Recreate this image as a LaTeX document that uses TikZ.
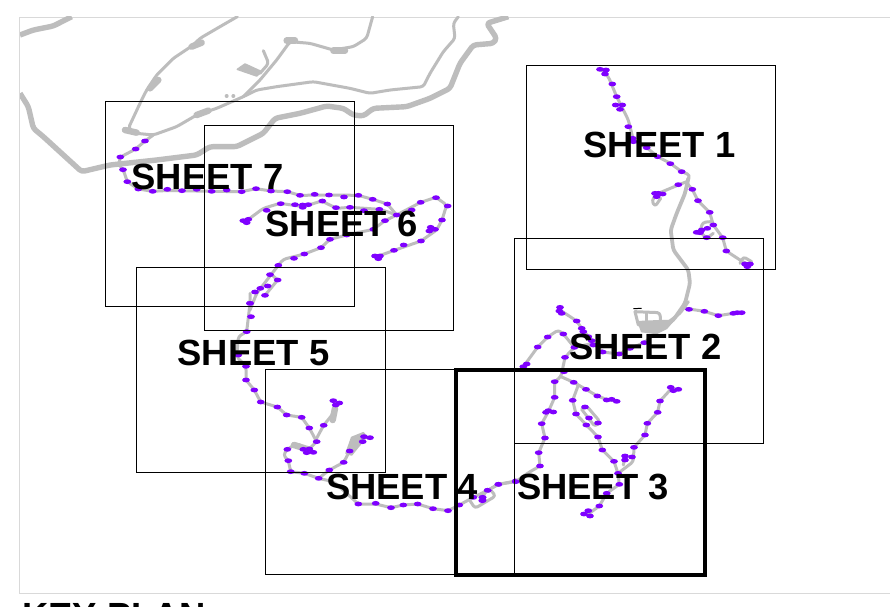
\documentclass[tikz,border=0pt]{standalone}
\usepackage{fontspec}
\setmainfont{Liberation Sans}
\definecolor{roadc}{HTML}{BDBDBD}
\definecolor{dotc}{HTML}{7F00FF}
\definecolor{framec}{HTML}{D9D9D9}
\newcommand{\pdots}[1]{\foreach \p in {#1} \fill[dotc] \p ellipse [x radius=3.9pt,y radius=2.4pt];}
\tikzset{
  coast/.style={draw=roadc,line width=5.4pt,line join=round,rounded corners=3pt},
  road/.style={draw=roadc,line width=3pt,line join=round,line cap=round,rounded corners=3pt},
  knot/.style={draw=roadc,line width=6.5pt,line join=round,line cap=round},
  blob/.style={draw=roadc,fill=roadc,line width=1.5pt,line join=round},
  sheetbox/.style={draw=black,line width=1pt},
  sheetlabel/.style={font=\fontsize{36.4}{36.4}\selectfont\bfseries,text=black,anchor=base,inner sep=0pt},
  zoomed/.style={x=0.33333pt,y=-0.33333pt}
}
\begin{document}
\begin{tikzpicture}[x=1pt,y=-1pt]
\useasboundingbox (0,0) rectangle (890,606);
\clip (0,0) rectangle (890,606);
\fill[white] (0,0) rectangle (890,606);
\draw[framec,line width=1pt] (890,17) -- (19,17) -- (19,593) -- (890,593);
% northern part, in 3x coordinates
\begin{scope}[zoomed]
\begin{scope}
\clip (60,50) rectangle (1560,930);
\draw[coast] (60,105) -- (100,90) -- (160,78) -- (215,50);
\draw[coast] (60,280) -- (85,320) -- (100,385) -- (130,410) -- (245,515) -- (330,495) -- (470,480) -- (590,465) -- (630,440) -- (710,440) -- (790,400) -- (825,355) -- (900,340) -- (980,318) -- (1030,325) -- (1060,345) -- (1090,348) -- (1120,325) -- (1220,320) -- (1290,295) -- (1350,265) -- (1380,190) -- (1420,135) -- (1480,130) -- (1490,115) -- (1460,70) -- (1525,50);
\draw[road] (712,50) -- (660,80) -- (600,115) -- (580,135) -- (520,175) -- (470,225) -- (440,270) -- (420,310) -- (385,385) -- (410,400) -- (460,405) -- (530,380) -- (590,345) -- (650,325) -- (730,290) -- (770,270) -- (830,260) -- (940,245) -- (1050,265) -- (1110,280) -- (1170,270) -- (1270,260) -- (1290,220) -- (1330,155) -- (1365,115) -- (1360,70) -- (1375,50);
\draw[road] (730,290) -- (780,240) -- (830,180) -- (870,125) -- (930,130) -- (1000,150) -- (1060,140) -- (1100,115) -- (1118,50);
\end{scope}
\draw[knot] (375,390) -- (410,398);
\draw[knot] (575,140) -- (605,128);
\draw[knot] (450,265) -- (475,240);
\draw[knot] (590,345) -- (625,332);
\draw[knot] (860,122) -- (885,122);
\draw[knot] (1000,152) -- (1035,152);
\fill[blob] (712,208) -- (735,192) -- (785,215) -- (770,228) -- cycle;
\draw[road] (780,220) -- (806,190) -- (790,152);
\foreach \p in {(680,288),(700,288)} \fill[roadc] \p circle (2pt);
\draw[road] (460,405) -- (435,423) -- (407,447) -- (360,472) -- (357,495) -- (370,510) -- (382,545) -- (415,567) -- (458,574) -- (490,572) -- (545,572) -- (635,574) -- (725,575) -- (768,566) -- (813,573) -- (862,575) -- (900,586) -- (987,585) -- (1075,586) -- (1118,598) -- (1162,612) -- (1190,645) -- (1155,662) -- (1120,688) -- (1040,705) -- (990,718) -- (963,743) -- (913,762) -- (850,778) -- (835,796) -- (770,880) -- (750,930);
\draw[road] (815,824) -- (833,840) -- (795,886);
\draw[road] (740,662) -- (790,625) -- (840,610) -- (910,620) -- (965,603) -- (1010,625) -- (1050,622) -- (1140,628) -- (1190,645);
\draw[road] (1130,770) -- (1180,752) -- (1263,723) -- (1310,690) -- (1326,660) -- (1340,615) -- (1308,592) -- (1262,607) -- (1190,645);
\pdots{(435,423),(407,447),(361,471),(369,509),(382,545),(415,567),(458,574),(502,568),(546,572),(590,568),(635,574),(680,570),(725,575),(768,566),(813,573),(862,575),(900,586),(944,583),(987,585),(1032,591),(1075,586),(1118,598),(1162,612),(1190,645),(1155,662),(1120,688),(1040,705),(990,718),(963,743),(913,762),(882,775),(835,796),(810,824),(833,840),(803,858),(781,865),(765,876),(795,886),(750,910)}
\pdots{(730,662),(745,658),(740,668),(800,631),(842,611),(885,614),(908,615),(925,614),(908,622),(967,603),(1008,623),(1050,622),(1092,632),(1138,628),(1235,630),(1262,607),(1308,593),(1343,618),(1326,660),(1292,682),(1305,688),(1288,693),(1263,723),(1211,735),(1182,751),(1125,768),(1140,768),(1135,776)}
\end{scope}
% west part
\begin{scope}[shift={(220pt,-300pt)},zoomed]
\draw[road] (90,-20) -- (90,10) -- (80,95) -- (55,110) -- (50,170) -- (78,200) -- (78,240) -- (103,270) -- (122,306) -- (172,321) -- (200,345) -- (245,352) -- (268,384) -- (290,425) -- (265,450) -- (230,430) -- (202,448) -- (190,465) -- (205,482) -- (212,515) -- (253,520) -- (296,535) -- (340,545) -- (380,580) -- (415,612) -- (467,612) -- (513,623) -- (550,615) -- (593,612) -- (639,626) -- (684,632) -- (718,615) -- (760,592) -- (803,571) -- (835,553) -- (887,543);
\draw[road] (287,420) -- (311,376) -- (340,340) -- (345,310);
\draw[knot] (338,360) -- (345,325);
\draw[knot] (222,435) -- (270,450);
\draw[road] (296,535) -- (328,510) -- (371,487) -- (389,453) -- (400,420) -- (440,412);
\fill[blob] (378,460) -- (395,412) -- (430,398) -- (440,410) -- (415,440) -- (395,465) -- cycle;
\draw[road] (750,602) -- (765,625) -- (827,588) -- (812,570);
\pdots{(90,10),(93,50),(80,95),(55,165),(78,199),(78,240),(103,270),(122,306),(172,321),(200,345),(245,352),(268,384),(311,376),(290,425),(340,302),(358,309),(347,315),(202,448),(250,448),(268,447),(280,457),(260,458),(205,482),(212,515),(253,520),(296,535),(328,510),(371,487),(389,453),(428,425),(432,410),(450,413),(415,612),(467,610),(513,623),(550,615),(593,612),(639,626),(684,632),(718,615),(760,592),(803,571),(835,553),(887,543),(787,592),(787,602)}
\end{scope}
% sheet 1 part
\begin{scope}[shift={(500pt,-50pt)},zoomed]
\draw[road] (300,55) -- (325,80) -- (350,140) -- (385,210) -- (400,270) -- (440,293) -- (473,320) -- (511,340) -- (545,365) -- (570,375) -- (560,400) -- (577,418) -- (594,452) -- (629,487) -- (640,525) -- (668,563) -- (679,603) -- (720,630) -- (745,645);
\draw[road,line width=3.8pt] (565,385) -- (555,430) -- (530,490) -- (512,540) -- (520,600) -- (565,660) -- (570,700) -- (555,760) -- (520,810) -- (490,830);
\draw[road] (560,395) -- (535,405) -- (475,430) -- (455,450) -- (465,470) -- (482,445);
\draw[road] (632,515) -- (608,517) -- (600,545) -- (620,565) -- (640,550);
\draw[road] (555,775) -- (613,784) -- (655,797) -- (700,790) -- (728,788);
\draw[road] (720,640) -- (730,620) -- (755,635);
\draw[road] (405,785) -- (480,788) -- (482,820);
\draw[road] (405,785) -- (415,825);
\draw[road] (440,790) -- (440,815);
\fill[blob] (414,815) -- (482,812) -- (520,812) -- (500,835) -- (470,850) -- (425,845) -- cycle;
\draw[black,line width=1pt] (400,776) -- (425,775);
\pdots{(300,58),(318,60),(315,72),(337,102),(350,140),(347,165),(367,165),(360,178),(385,230),(398,265),(400,275),(440,293),(473,320),(511,341),(545,365),(535,404),(577,418),(594,452),(629,487),(640,525),(668,563),(679,603),(745,645),(735,642),(750,642),(742,650),(620,563),(590,547),(605,540),(622,535),(600,548),(475,430),(465,430),(488,432),(470,440),(567,778),(613,784),(655,797),(700,790),(712,788),(725,788)}
\end{scope}
% sheets 2 and 3 part
\begin{scope}[shift={(480pt,-300pt)},zoomed]
\draw[road] (0,595) -- (23,571) -- (55,553) -- (107,545) -- (150,515) -- (180,498) -- (176,458) -- (195,414) -- (185,371) -- (205,335) -- (224,292) -- (224,245) -- (243,230) -- (255,172) -- (283,142) -- (340,130);
\draw[road] (243,230) -- (281,247) -- (318,268) -- (352,288) -- (385,300) -- (405,302);
\draw[road] (295,255) -- (278,301) -- (288,342) -- (319,375) -- (354,411) -- (367,450) -- (402,484) -- (414,520) -- (418,553) -- (380,580) -- (358,618) -- (325,642);
\draw[road] (305,328) -- (320,318) -- (360,365) -- (345,380) -- (305,328);
\draw[road] (414,520) -- (460,485) -- (462,442) -- (495,405) -- (502,370) -- (533,337) -- (540,303) -- (575,265) -- (590,268);
\draw[road] (435,470) -- (430,495);
\draw[road] (130,200) -- (173,141) -- (203,111) -- (235,90) -- (250,102) -- (283,142);
\draw[road] (240,30) -- (290,63) -- (305,85) -- (325,110) -- (340,130) -- (368,156) -- (417,162) -- (450,145) -- (493,128) -- (560,70) -- (600,40) -- (625,5);
\pdots{(240,22),(238,33),(245,40),(290,63),(305,85),(310,95),(325,110),(335,122),(340,135),(250,102),(203,111),(173,141),(283,142),(130,200),(140,192),(368,156),(417,162),(450,145),(493,128),(255,172),(252,215),(224,245),(281,247),(318,268),(352,288),(380,300),(395,298),(410,304),(224,292),(278,301),(288,342),(315,321),(327,354),(354,369),(319,375),(354,411),(367,450),(402,484),(414,520),(418,553),(380,580),(358,618),(325,632),(312,642),(330,648),(205,332),(198,337),(220,336),(185,371),(195,414),(176,458),(180,498),(107,545),(55,553),(23,571),(8,592),(8,600),(435,468),(456,471),(435,480),(462,442),(495,405),(502,370),(533,337),(540,303),(572,262),(580,272),(595,268)}
\end{scope}
% sheet frames
\draw[sheetbox] (105.5,101) rectangle (354.5,306);
\draw[sheetbox] (204,125.5) rectangle (453,330);
\draw[sheetbox] (136,267) rectangle (385,472);
\draw[sheetbox] (265,369.5) rectangle (514.5,574);
\draw[sheetbox] (514.5,238.5) rectangle (763.5,443.5);
\draw[sheetbox] (526,65.5) rectangle (775,269.5);
\draw[draw=black,line width=4pt] (455.5,369.5) rectangle (705,574.5);
% labels
\node[sheetlabel] (s7) at (207.5,189) {SHEET 7};
\node[sheetlabel] (s6) at (341.5,236) {SHEET 6};
\node[sheetlabel] (s5) at (253.5,365) {SHEET 5};
\node[sheetlabel] (s4) at (402,499) {SHEET 4};
\node[sheetlabel] (s3) at (593,499) {SHEET 3};
\node[sheetlabel] (s2) at (645.5,359) {SHEET 2};
\node[sheetlabel] (s1) at (659.5,157) {SHEET 1};
\node[font=\fontsize{36.4}{36.4}\selectfont\bfseries,anchor=base west,inner sep=0pt] (kp) at (22,628) {KEY PLAN};
\end{tikzpicture}
\end{document}
